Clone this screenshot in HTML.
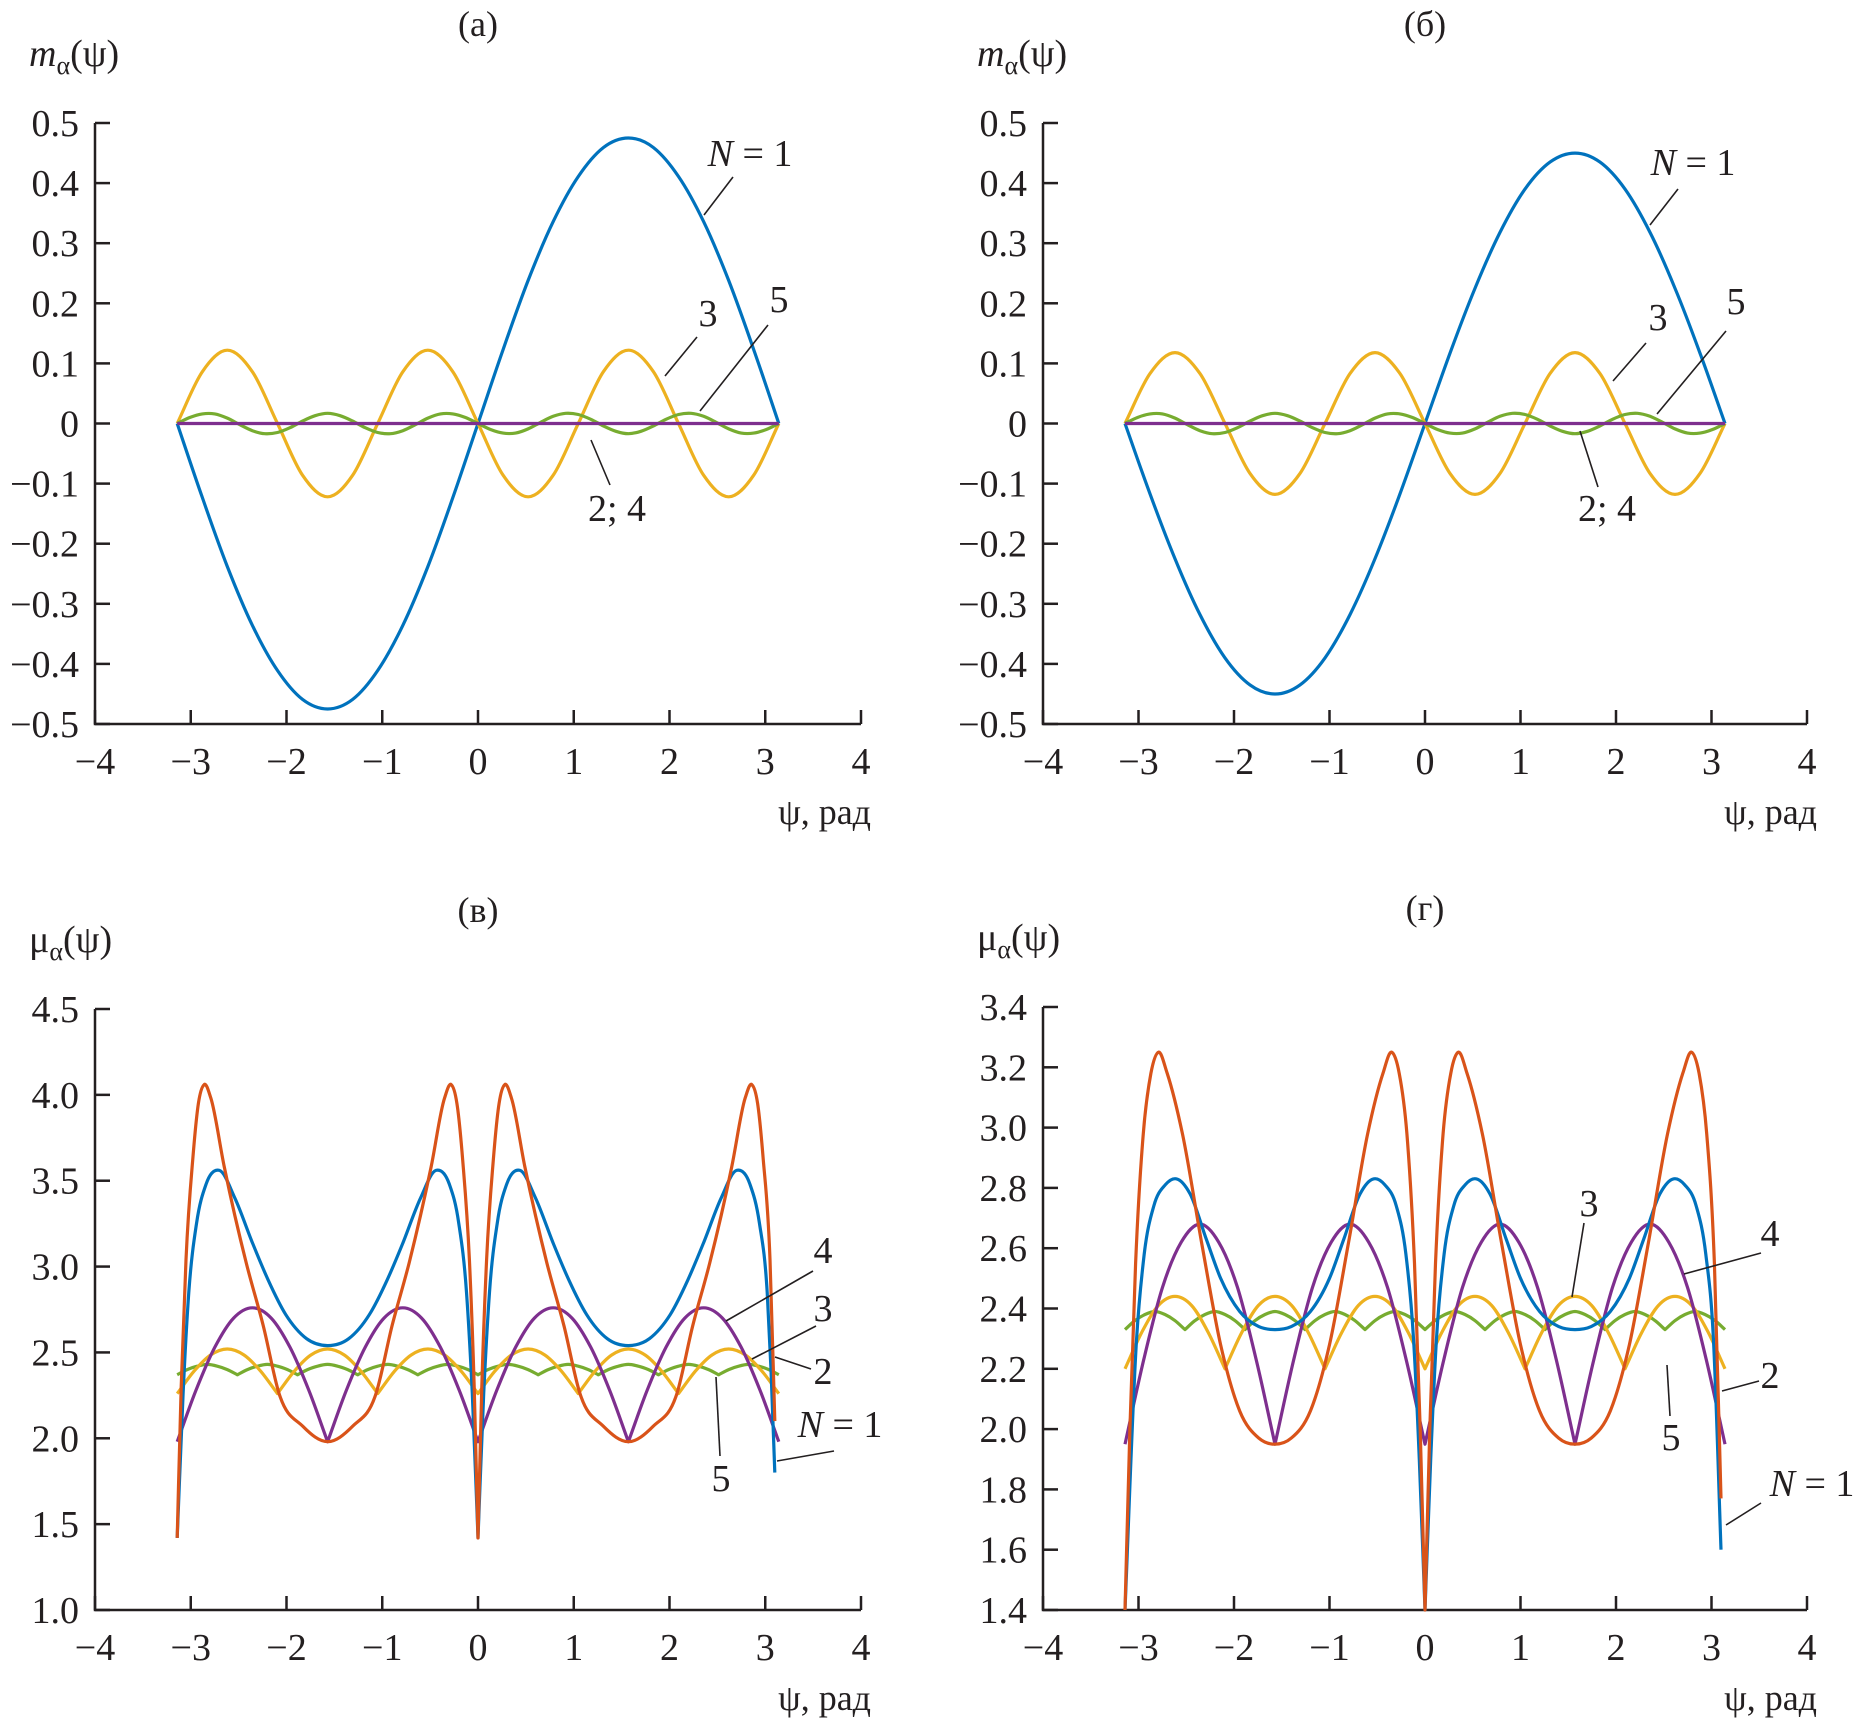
<!DOCTYPE html>
<html><head><meta charset="utf-8"><style>
html,body{margin:0;padding:0;background:#fff;}
svg{display:block;font-family:"Liberation Serif",serif;}
</style></head><body>
<svg id="fig" width="1853" height="1719" viewBox="0 0 1853 1719" xmlns="http://www.w3.org/2000/svg" font-family="Liberation Serif, serif"></svg>
<script>
// ---- Panel (a) data: m_alpha(psi), grid from -pi in steps ----
const aN1 = [0,-0.123,-0.238,-0.336,-0.411,-0.459,-0.475,-0.459,-0.411,-0.336,-0.238,-0.123,0,0.123,0.238,0.336,0.411,0.459,0.475,0.459,0.411,0.336,0.238,0.123,0];
const aN3 = [0,0.086,0.122,0.086,0,-0.086,-0.122,-0.086,0,0.086,0.122,0.086,0,-0.086,-0.122,-0.086,0,0.086,0.122,0.086,0,-0.086,-0.122,-0.086,0];
const aN5 = [0,0.010,0.016,0.016,0.009,-0.002,-0.012,-0.017,-0.015,-0.007,0.004,0.013,0.017,0.013,0.004,-0.007,-0.015,-0.017,-0.012,-0.002,0.009,0.016,0.016,0.010,0,-0.010,-0.016,-0.016,-0.009,0.002,0.012,0.017,0.015,0.007,-0.004,-0.013,-0.017,-0.013,-0.004,0.007,0.015,0.017,0.012,0.002,-0.009,-0.016,-0.016,-0.010,0];
const aN24 = [0,0,0,0,0,0,0,0,0,0,0,0,0,0,0,0,0,0,0,0,0,0,0,0,0];
// ---- Panel (b) data ----
const bN1 = [0,-0.117,-0.225,-0.318,-0.390,-0.435,-0.450,-0.435,-0.390,-0.318,-0.225,-0.117,0,0.117,0.225,0.318,0.390,0.435,0.450,0.435,0.390,0.318,0.225,0.117,0];
const bN3 = [0,0.083,0.118,0.083,0,-0.083,-0.118,-0.083,0,0.083,0.118,0.083,0,-0.083,-0.118,-0.083,0,0.083,0.118,0.083,0,-0.083,-0.118,-0.083,0];
const bN5 = [0,0.010,0.016,0.016,0.009,-0.002,-0.012,-0.017,-0.015,-0.007,0.004,0.013,0.017,0.013,0.004,-0.007,-0.015,-0.017,-0.012,-0.002,0.009,0.016,0.016,0.010,0,-0.010,-0.016,-0.016,-0.009,0.002,0.012,0.017,0.015,0.007,-0.004,-0.013,-0.017,-0.013,-0.004,0.007,0.015,0.017,0.012,0.002,-0.009,-0.016,-0.016,-0.010,0];
const bN24 = [0,0,0,0,0,0,0,0,0,0,0,0,0,0,0,0,0,0,0,0,0,0,0,0,0];
// ---- Panel (v) data: mu_alpha(psi) ----
const vN1x = [-3.1416,-3.08,-3.02,-2.94,-2.84,-2.70,-2.54,-2.35,-2.19,-2.007,-1.79,-1.571,-1.35,-1.135,-0.95,-0.79,-0.6,-0.44,-0.3,-0.2,-0.12,-0.06,0,0.06,0.12,0.2,0.3,0.44,0.6,0.79,0.95,1.135,1.35,1.571,1.79,2.007,2.19,2.35,2.54,2.70,2.84,2.94,3.02,3.06,3.10];
const vN1y = [1.42,2.26,2.85,3.25,3.48,3.56,3.40,3.13,2.92,2.72,2.58,2.54,2.58,2.72,2.92,3.13,3.40,3.56,3.48,3.25,2.85,2.26,1.42,2.26,2.85,3.25,3.48,3.56,3.40,3.13,2.92,2.72,2.58,2.54,2.58,2.72,2.92,3.13,3.40,3.56,3.48,3.25,2.85,2.4,1.8];
const vN2x = [-3.1416,-3.10,-3.05,-2.98,-2.92,-2.86,-2.79,-2.65,-2.42,-2.24,-2.077,-1.83,-1.571,-1.31,-1.065,-0.9,-0.72,-0.49,-0.35,-0.28,-0.22,-0.16,-0.09,-0.04,0,0.04,0.09,0.16,0.22,0.28,0.35,0.49,0.72,0.9,1.065,1.31,1.571,1.83,2.077,2.24,2.42,2.65,2.79,2.86,2.92,2.98,3.05,3.10];
const vN2y = [1.42,2.3,3.04,3.62,3.95,4.06,3.98,3.58,3.02,2.65,2.26,2.07,1.98,2.07,2.26,2.65,3.02,3.58,3.98,4.06,3.95,3.62,3.04,2.3,1.42,2.3,3.04,3.62,3.95,4.06,3.98,3.58,3.02,2.65,2.26,2.07,1.98,2.07,2.26,2.65,3.02,3.58,3.98,4.06,3.95,3.62,3.04,2.1];
const vN3 = [2.26,2.39,2.485,2.52,2.485,2.39,2.26,2.39,2.485,2.52,2.485,2.39,2.26,2.39,2.485,2.52,2.485,2.39,2.26,2.39,2.485,2.52,2.485,2.39,2.26,2.39,2.485,2.52,2.485,2.39,2.26,2.39,2.485,2.52,2.485,2.39,2.26];
const vN4 = [1.98,2.28,2.53,2.70,2.76,2.70,2.53,2.28,1.98,2.28,2.53,2.70,2.76,2.70,2.53,2.28,1.98,2.28,2.53,2.70,2.76,2.70,2.53,2.28,1.98,2.28,2.53,2.70,2.76,2.70,2.53,2.28,1.98];
const vN5 = [2.37,2.40,2.42,2.43,2.42,2.40,2.37,2.40,2.42,2.43,2.42,2.40,2.37,2.40,2.42,2.43,2.42,2.40,2.37,2.40,2.42,2.43,2.42,2.40,2.37,2.40,2.42,2.43,2.42,2.40,2.37,2.40,2.42,2.43,2.42,2.40,2.37,2.40,2.42,2.43,2.42,2.40,2.37,2.40,2.42,2.43,2.42,2.40,2.37,2.40,2.42,2.43,2.42,2.40,2.37,2.40,2.42,2.43,2.42,2.40,2.37];
// ---- Panel (g) data ----
const gN1x = [-3.1416,-3.02,-2.94,-2.84,-2.72,-2.60,-2.46,-2.29,-2.14,-1.94,-1.74,-1.571,-1.4,-1.2,-1.0,-0.85,-0.68,-0.54,-0.42,-0.3,-0.2,-0.12,-0.06,0,0.06,0.12,0.2,0.3,0.42,0.54,0.68,0.85,1.0,1.2,1.4,1.571,1.74,1.94,2.14,2.29,2.46,2.60,2.72,2.84,2.94,3.02,3.10];
const gN1y = [1.4,2.3,2.58,2.74,2.81,2.83,2.78,2.63,2.5,2.39,2.34,2.33,2.34,2.39,2.5,2.63,2.78,2.83,2.81,2.74,2.58,2.3,1.9,1.4,1.9,2.3,2.58,2.74,2.81,2.83,2.78,2.63,2.5,2.39,2.34,2.33,2.34,2.39,2.5,2.63,2.78,2.83,2.81,2.74,2.58,2.3,1.6];
const gN2x = [-3.1416,-3.09,-3.03,-2.95,-2.87,-2.79,-2.70,-2.54,-2.34,-2.14,-1.94,-1.74,-1.571,-1.4,-1.2,-1.0,-0.8,-0.6,-0.44,-0.35,-0.27,-0.19,-0.11,-0.05,0,0.05,0.11,0.19,0.27,0.35,0.44,0.6,0.8,1.0,1.2,1.4,1.571,1.74,1.94,2.14,2.34,2.54,2.70,2.79,2.87,2.95,3.03,3.10];
const gN2y = [1.4,2.0,2.55,2.98,3.18,3.25,3.18,2.98,2.62,2.28,2.06,1.97,1.95,1.97,2.06,2.28,2.62,2.98,3.18,3.25,3.18,2.98,2.55,2.0,1.4,2.0,2.55,2.98,3.18,3.25,3.18,2.98,2.62,2.28,2.06,1.97,1.95,1.97,2.06,2.28,2.62,2.98,3.18,3.25,3.18,2.98,2.55,1.77];
const gN3 = [2.20,2.32,2.41,2.44,2.41,2.32,2.20,2.32,2.41,2.44,2.41,2.32,2.20,2.32,2.41,2.44,2.41,2.32,2.20,2.32,2.41,2.44,2.41,2.32,2.20,2.32,2.41,2.44,2.41,2.32,2.20,2.32,2.41,2.44,2.41,2.32,2.20];
const gN4 = [1.95,2.23,2.47,2.62,2.68,2.62,2.47,2.23,1.95,2.23,2.47,2.62,2.68,2.62,2.47,2.23,1.95,2.23,2.47,2.62,2.68,2.62,2.47,2.23,1.95,2.23,2.47,2.62,2.68,2.62,2.47,2.23,1.95];
const gN5 = [2.33,2.36,2.38,2.39,2.38,2.36,2.33,2.36,2.38,2.39,2.38,2.36,2.33,2.36,2.38,2.39,2.38,2.36,2.33,2.36,2.38,2.39,2.38,2.36,2.33,2.36,2.38,2.39,2.38,2.36,2.33,2.36,2.38,2.39,2.38,2.36,2.33,2.36,2.38,2.39,2.38,2.36,2.33,2.36,2.38,2.39,2.38,2.36,2.33,2.36,2.38,2.39,2.38,2.36,2.33,2.36,2.38,2.39,2.38,2.36,2.33];
// ---- tick labels ----
const xTicks = [-4,-3,-2,-1,0,1,2,3,4];
const yTicksAB = ["0.5","0.4","0.3","0.2","0.1","0","−0.1","−0.2","−0.3","−0.4","−0.5"];
const yTicksV = ["4.5","4.0","3.5","3.0","2.5","2.0","1.5","1.0"];
const yTicksG = ["3.4","3.2","3.0","2.8","2.6","2.4","2.2","2.0","1.8","1.6","1.4"];

const C = {blue:"#0072BD",orange:"#D95319",yellow:"#EDB120",purple:"#7E2F8E",green:"#77AC30"};
const NS = "http://www.w3.org/2000/svg";
const svg = document.getElementById('fig');
function mk(tag, attrs, parent){const e=document.createElementNS(NS,tag);for(const k in attrs)e.setAttribute(k,attrs[k]);(parent||svg).appendChild(e);return e;}
function grid(n){const s=2*Math.PI/(n-1);const r=[];for(let i=0;i<n;i++)r.push(-Math.PI+i*s);return r;}

function curvePath(xs, ys, sx, sy){
  const n=xs.length, P=[];
  for(let i=0;i<n;i++)P.push([sx(xs[i]),sy(ys[i])]);
  const d=[],h=[];
  for(let i=0;i<n-1;i++){h.push(P[i+1][0]-P[i][0]);d.push((P[i+1][1]-P[i][1])/h[i]);}
  const mL=[],mR=[];
  for(let i=0;i<n;i++){
    if(i==0){mL[i]=mR[i]=d[0];continue;}
    if(i==n-1){mL[i]=mR[i]=d[n-2];continue;}
    let corner=false;
    if(ys[i]<ys[i-1]&&ys[i]<ys[i+1]){
      const cl=Math.abs(ys[i]-ys[i-1])/(xs[i]-xs[i-1]), cr=Math.abs(ys[i+1]-ys[i])/(xs[i+1]-xs[i]);
      const okL = i<2 || cl>=Math.abs(ys[i-1]-ys[i-2])/(xs[i-1]-xs[i-2])*0.999;
      const okR = i>n-3 || cr>=Math.abs(ys[i+2]-ys[i+1])/(xs[i+2]-xs[i+1])*0.999;
      corner = okL && okR;
    }
    if(corner){mL[i]=d[i-1];mR[i]=d[i];}
    else{
      let m=(h[i]*d[i-1]+h[i-1]*d[i])/(h[i-1]+h[i]);
      if(d[i-1]*d[i]>0){const lim=3*Math.min(Math.abs(d[i-1]),Math.abs(d[i]));if(Math.abs(m)>lim)m=Math.sign(m)*lim;}
      mL[i]=mR[i]=m;
    }
  }
  let s='M'+P[0][0].toFixed(1)+','+P[0][1].toFixed(1);
  for(let i=0;i<n-1;i++){
    const hh=h[i];
    const c1=[P[i][0]+hh/3,P[i][1]+mR[i]*hh/3], c2=[P[i+1][0]-hh/3,P[i+1][1]-mL[i+1]*hh/3];
    s+=' C'+c1[0].toFixed(1)+','+c1[1].toFixed(1)+' '+c2[0].toFixed(1)+','+c2[1].toFixed(1)+' '+P[i+1][0].toFixed(1)+','+P[i+1][1].toFixed(1);
  }
  return s;
}

function panel(cfg){
  const g=mk('g',{});
  
  
  const sx=v=>cfg.L+(v+4)/8*(cfg.R-cfg.L);
  const sy=v=>cfg.B-(v-cfg.ymin)/(cfg.ymax-cfg.ymin)*(cfg.B-cfg.T);
  const ax=mk('path',{d:`M${cfg.L},${cfg.T} V${cfg.B} H${cfg.R}`,fill:'none',stroke:'#231f20','stroke-width':2.5},g);
  
  
  xTicks.forEach(t=>{
    const x=sx(t);
    mk('line',{x1:x,y1:cfg.B,x2:x,y2:cfg.B-14,stroke:'#231f20','stroke-width':2.5},g);
    const tx=mk('text',{x:x,y:cfg.B+50,'text-anchor':'middle','font-size':38,fill:'#231f20'},g);
    tx.textContent=t<0?'−'+Math.abs(t):String(t);
    
    
  });
  const nT=cfg.ylabels.length;
  cfg.ylabels.forEach((lab,i)=>{
    const y=cfg.T+i*(cfg.B-cfg.T)/(nT-1);
    mk('line',{x1:cfg.L,y1:y,x2:cfg.L+15,y2:y,stroke:'#231f20','stroke-width':2.5},g);
    const ty=mk('text',{x:cfg.L-16,y:y+13,'text-anchor':'end','font-size':38,fill:'#231f20'},g);
    ty.textContent=lab;
    
    
  });
  cfg.series.forEach(s=>{
    const xs=s.x||grid(s.y.length);
    const p=mk('path',{d:curvePath(xs,s.y,sx,sy),fill:'none',stroke:s.c,'stroke-width':3.2,'stroke-linejoin':'round'},g);
    
    
  });
  const tt=mk('text',{x:sx(0),y:cfg.T-87,'text-anchor':'middle','font-size':36,fill:'#231f20'},g);
  tt.textContent=cfg.title;
  
  
  const yl=mk('text',{x:cfg.L-66,y:cfg.T-57,'font-size':38,fill:'#231f20'},g);
  yl.innerHTML=cfg.ylab;
  
  
  const xl=mk('text',{x:cfg.R+10,y:cfg.B+100,'text-anchor':'end','font-size':36,fill:'#231f20'},g);
  xl.textContent='ψ, рад';
  
  
  cfg.notes.forEach(a=>{
    const l=mk('line',{x1:a.l[0],y1:a.l[1],x2:a.l[2],y2:a.l[3],stroke:'#231f20','stroke-width':1.6},g);
    
    
    const t=mk('text',{x:a.t[0],y:a.t[1],'text-anchor':'middle','font-size':38,fill:'#231f20'},g);
    t.innerHTML=a.s;
    
    
  });
}
const mlab='<tspan font-style="italic">m</tspan><tspan font-size="26" dy="8">α</tspan><tspan dy="-8">(ψ)</tspan>';
const mulab='μ<tspan font-size="26" dy="8">α</tspan><tspan dy="-8">(ψ)</tspan>';
const N1='<tspan font-style="italic">N</tspan> = 1';

panel({name:'panel-a',title:'(а)',L:95,R:861,T:123,B:724,ymin:-0.5,ymax:0.5,ylabels:yTicksAB,ylab:mlab,
  series:[{n:'curve-n1',c:C.blue,y:aN1},{n:'curve-n3',c:C.yellow,y:aN3},{n:'curve-n5',c:C.green,y:aN5},{n:'curve-n2-4',c:C.purple,y:aN24}],
  notes:[{s:N1,t:[750,166],l:[733,177,704,215]},{s:'3',t:[708,326],l:[697,337,665,376]},{s:'5',t:[779,312],l:[768,325,700,411]},{s:'2; 4',t:[617,521],l:[610,485,591,440]}]});
panel({name:'panel-b',title:'(б)',L:1043,R:1807,T:123,B:724,ymin:-0.5,ymax:0.5,ylabels:yTicksAB,ylab:mlab,
  series:[{n:'curve-n1',c:C.blue,y:bN1},{n:'curve-n3',c:C.yellow,y:bN3},{n:'curve-n5',c:C.green,y:bN5},{n:'curve-n2-4',c:C.purple,y:bN24}],
  notes:[{s:N1,t:[1693,175],l:[1678,189,1650,225]},{s:'3',t:[1658,330],l:[1646,343,1613,381]},{s:'5',t:[1736,314],l:[1726,331,1657,414]},{s:'2; 4',t:[1607,521],l:[1598,487,1580,431]}]});
panel({name:'panel-v',title:'(в)',L:95,R:861,T:1009,B:1610,ymin:1.0,ymax:4.5,ylabels:yTicksV,ylab:mulab,
  series:[{n:'curve-n5',c:C.green,y:vN5},{n:'curve-n3',c:C.yellow,y:vN3},{n:'curve-n4',c:C.purple,y:vN4},{n:'curve-n1',c:C.blue,x:vN1x,y:vN1y},{n:'curve-n2',c:C.orange,x:vN2x,y:vN2y}],
  notes:[{s:'4',t:[823,1263],l:[813,1271,726,1321]},{s:'3',t:[823,1321],l:[816,1326,752,1359]},{s:'2',t:[823,1384],l:[811,1369,775,1357]},{s:N1,t:[840,1437],l:[834,1451,777,1461]},{s:'5',t:[721,1491],l:[720,1456,716,1377]}]});
panel({name:'panel-g',title:'(г)',L:1043,R:1807,T:1007,B:1610,ymin:1.4,ymax:3.4,ylabels:yTicksG,ylab:mulab,
  series:[{n:'curve-n5',c:C.green,y:gN5},{n:'curve-n3',c:C.yellow,y:gN3},{n:'curve-n4',c:C.purple,y:gN4},{n:'curve-n1',c:C.blue,x:gN1x,y:gN1y},{n:'curve-n2',c:C.orange,x:gN2x,y:gN2y}],
  notes:[{s:'3',t:[1589,1216],l:[1584,1223,1572,1297]},{s:'4',t:[1770,1246],l:[1761,1253,1684,1274]},{s:'2',t:[1770,1388],l:[1759,1381,1722,1391]},{s:'5',t:[1671,1450],l:[1670,1416,1667,1365]},{s:N1,t:[1812,1496],l:[1761,1503,1726,1525]}]});
</script>
</body></html>
